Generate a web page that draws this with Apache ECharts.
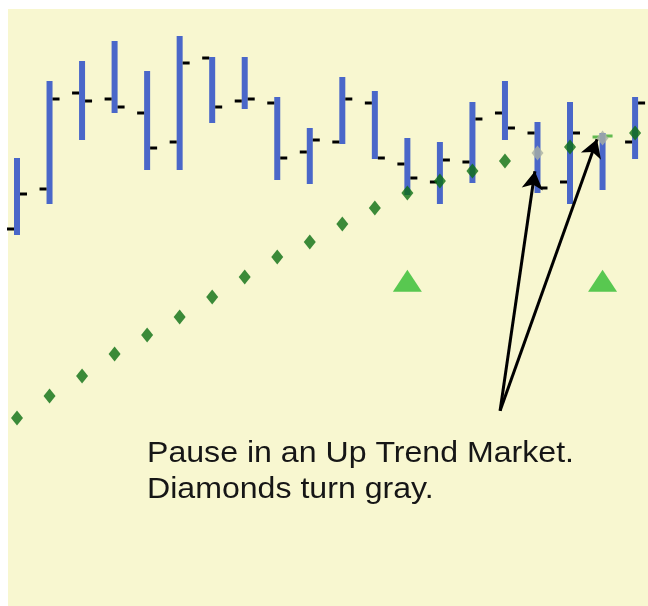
<!DOCTYPE html>
<html>
<head>
<meta charset="utf-8">
<script src="https://cdn.jsdelivr.net/npm/echarts@6/dist/echarts.min.js"></script>
<style>
html,body{margin:0;padding:0;background:#ffffff;}
#chart{width:648px;height:606px;}
</style>
</head>
<body>
<div id="chart"></div>
<script>
// OHLC bars (price units)
const opens  = [92.75,102.75,126.75,125.25,121.75,114.5,135.5,124.75,124.25,112,114.5,124.25,109,104.5,109.5,121.75,116.75,104.5,115.75,114.5];
const closes = [101.5,125.25,124.75,123.25,113,134.25,123.25,125.25,110.5,115,125.25,110.5,105.5,110,120.25,118,103,116.75,116,124.25];
const lows   = [91.25,99,115,121.75,107.5,107.5,119.25,122.75,105,104,114,110.25,101.25,99,104.25,115,101.75,99,102.5,110.25];
const highs  = [110.5,129.75,134.75,139.75,132.25,141,135.75,135.75,125.75,118,130.75,127.25,115.5,114.5,124.5,129.75,119.5,124.5,116.75,125.75];
// Trend diamonds
const diamonds = [45.5,51,56,61.5,66.25,70.75,75.75,80.75,85.75,89.5,94,98,101.75,104.75,107.25,109.75,111.75,113.25,115.5,116.75];
const grayDiamondBars = [16,18];
const greenTickBars = [18];
// Signal triangles
const triangleBars = [12,18];
const triangleLevel = 79.8;
// Annotation
const arrowTail = [14.85,47.3];
const arrowTips = [[15.92,107.2],[17.83,115.2]];
const noteLines = ['Pause in an Up Trend Market.','Diamonds turn gray.'];

const ohlcData = opens.map((o,i)=>[i,o,closes[i],lows[i],highs[i]]);
const greenDiamonds = [], grayDiamonds = [];
diamonds.forEach((v,i)=>{ (grayDiamondBars.includes(i)?grayDiamonds:greenDiamonds).push([i,v]); });
const triangles = triangleBars.map(i=>[i,triangleLevel]);

const chart = echarts.init(document.getElementById('chart'));
chart.setOption({
  animation:false,
  backgroundColor:'#ffffff',
  grid:{left:8,top:9,width:640,height:597,show:true,backgroundColor:'#f8f7d0',borderWidth:0},
  xAxis:{type:'value',min:-0.2767,max:19.397,show:false},
  yAxis:{type:'value',min:-1.5,max:147.75,show:false},
  series:[
    {
      type:'custom',
      data:ohlcData,
      z:2,
      renderItem:function(params,api){
        const x=api.value(0),o=api.value(1),c=api.value(2),l=api.value(3),h=api.value(4);
        const pH=api.coord([x,h]),pL=api.coord([x,l]),pO=api.coord([x,o]),pC=api.coord([x,c]);
        const bw=6,tl=7,th=3;
        const tc=greenTickBars.includes(params.dataIndex)?'#62bb50':'#000000';
        return {type:'group',children:[
          {type:'rect',shape:{x:pH[0]-bw/2,y:pH[1],width:bw,height:pL[1]-pH[1]},style:{fill:'#4a67c9'}},
          {type:'rect',shape:{x:pO[0]-bw/2-tl,y:pO[1]-th/2,width:tl,height:th},style:{fill:tc}},
          {type:'rect',shape:{x:pC[0]+bw/2,y:pC[1]-th/2,width:tl,height:th},style:{fill:tc}}
        ]};
      }
    },
    {type:'scatter',data:greenDiamonds,symbol:'diamond',symbolSize:[12,15],itemStyle:{color:'#0b6e12'},z:3},
    {type:'scatter',data:grayDiamonds,symbol:'diamond',symbolSize:[12,15],itemStyle:{color:'#a9b0a4'},z:3},
    {type:'scatter',data:triangles,symbol:'triangle',symbolSize:[29,22],itemStyle:{color:'#2fbb30'},z:3,
      markLine:{
        silent:true,symbol:['none','arrow'],symbolSize:[16,18],
        lineStyle:{color:'#000000',width:3,type:'solid'},label:{show:false},
        data:arrowTips.map(t=>[{coord:arrowTail},{coord:t}])
      }
    }
  ],
  graphic:[
    {type:'text',left:147,top:436,scaleX:1.07,style:{text:noteLines.join('\n'),font:'30px "Liberation Sans", Arial, sans-serif',fill:'#161616',lineHeight:36}}
  ]
});
</script>
</body>
</html>
